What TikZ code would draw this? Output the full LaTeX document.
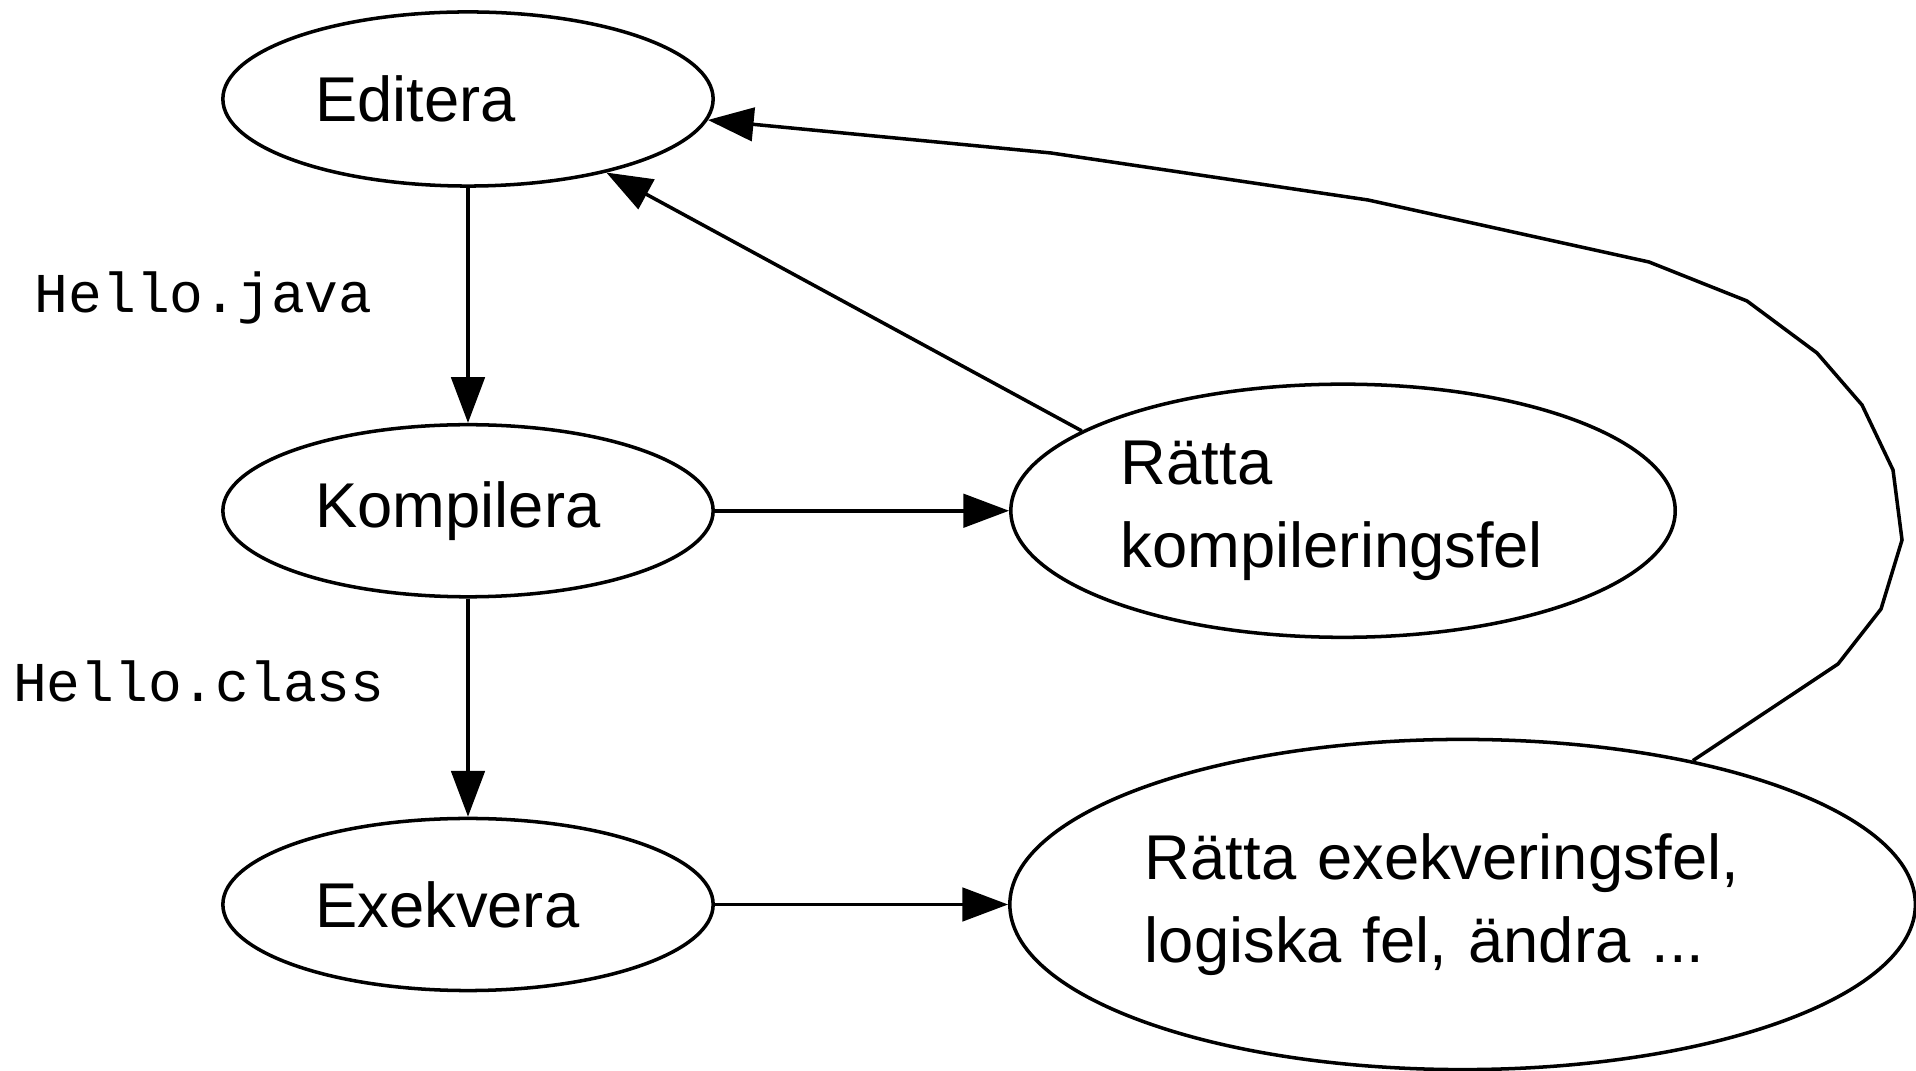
\documentclass[tikz,border=0pt]{standalone}
\usepackage{fontspec}
\setmainfont{Liberation Sans}
\setmonofont{Liberation Mono}
\usetikzlibrary{
	shapes.geometric,					% Ellipse nodes
	positioning,						% Advanced relative positioning
	arrows.meta							% Advanced arrows
}

\begin{document}
\begin{tikzpicture}[x=0.01cm, y=-0.01cm, line width=1pt, >={Triangle[length=13pt, width=9.5pt]}]
		\tikzstyle{task} = [draw, ellipse, inner sep=0pt, align=left, font=\fontsize{18}{23.5}\selectfont]
		\tikzstyle{fileName} = [font=\fontsize{16}{18}\selectfont\ttfamily]
		\useasboundingbox (0,0) rectangle (1916,1071);
		
		% Steps
		\node[task, minimum width=4.9cm, minimum height=1.74cm, text width=3.05cm] at (468,99) (editera) {Editera};
		\node[task, minimum width=4.9cm, minimum height=1.72cm, text width=3.05cm, below=2.35cm of editera] (kompilera) {Kompilera};
		\node[task, minimum width=4.9cm, minimum height=1.72cm, text width=3.05cm, below=2.18cm of kompilera] (exekvera) {Exekvera};
		%% Fixing errors
		\node[task, minimum width=6.64cm, minimum height=2.53cm, text width=4.44cm, right=2.94cm of kompilera] (kompFel) {Rätta\\kompileringsfel};
		\node[task, minimum width=9.05cm, minimum height=3.3cm, text width=6.35cm, right=2.93cm of exekvera] (exekFel) {Rätta exekveringsfel,\\logiska fel, ändra ...};
		
		% Arrows
		\draw[->] (editera) -- node[fileName, pos=0.47, left=0.82cm] (javaFile) {Hello.java} (kompilera);
		\draw[->] (kompilera) -- node[fileName, pos=0.38, left=0.7cm] (classFile) {Hello.class} (exekvera);
		\draw[->] (kompilera) -- (kompFel);
		\draw[->] (exekvera) -- (exekFel);
		%% Back to editing
		\draw[->] (kompFel.163) -- (editera.332);
		\draw[->] (exekFel.32) -- (1838,664) -- (1881,609) -- (1902,540) -- (1893,470) -- (1862,405) -- (1817,353) -- (1747,301) -- (1649,262) -- (1368,200) -- (1051,153) -- (editera.355);
	\end{tikzpicture}
\end{document}
